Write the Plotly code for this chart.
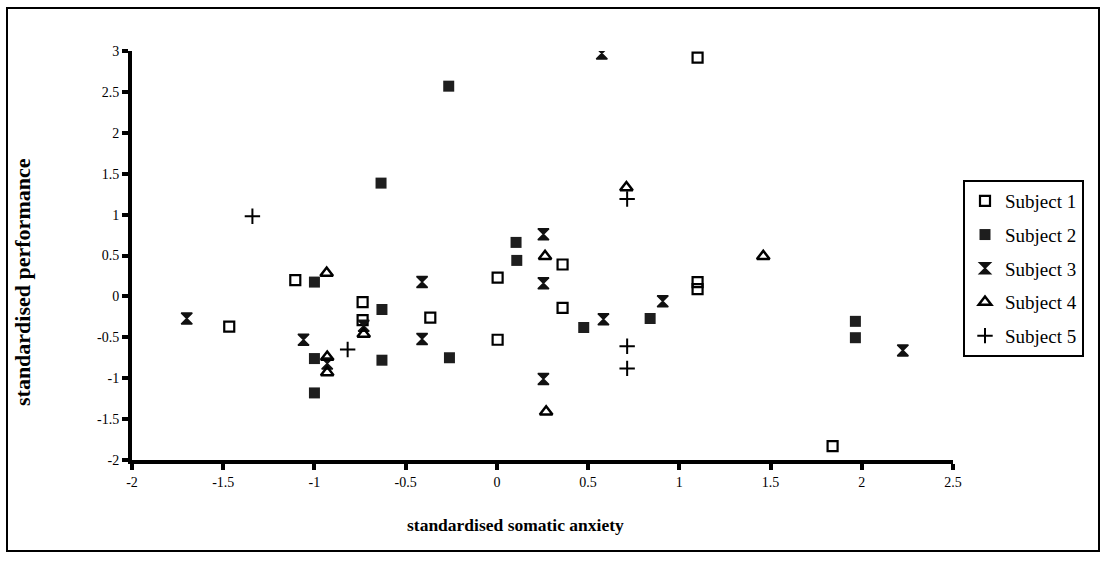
import plotly.graph_objects as go

# Standardised somatic anxiety (x) vs standardised performance (y) per subject
s1_x = [-1.467, -1.105, -0.736, -0.736, -0.365, 0.004, 0.004, 0.36, 0.36, 1.10, 1.10, 1.10, 1.84]
s1_y = [-0.37, 0.20, -0.07, -0.29, -0.26, 0.23, -0.53, 0.39, -0.14, 0.175, 0.09, 2.92, -1.83]

s2_x = [-1.0, -1.0, -1.0, -0.635, -0.63, -0.63, -0.264, -0.26, 0.105, 0.109, 0.476, 0.84, 1.965, 1.965]
s2_y = [0.175, -0.76, -1.18, 1.385, -0.16, -0.78, 2.57, -0.75, 0.66, 0.44, -0.38, -0.27, -0.305, -0.505]

s3_x = [-1.70, -1.06, -0.73, -0.41, -0.41, 0.255, 0.255, 0.255, 0.575, 0.584, 0.909, 2.225, -0.93]
s3_y = [-0.27, -0.53, -0.36, 0.175, -0.52, 0.76, 0.16, -1.01, 2.97, -0.28, -0.06, -0.66, -0.82]

s4_x = [-0.933, -0.93, -0.93, -0.73, 0.264, 0.27, 0.71, 1.46]
s4_y = [0.285, -0.74, -0.93, -0.46, 0.49, -1.41, 1.33, 0.49]

s5_x = [-1.34, -0.818, 0.714, 0.714, 0.714]
s5_y = [0.98, -0.65, 1.19, -0.61, -0.88]

x_ticks = [-2, -1.5, -1, -0.5, 0, 0.5, 1, 1.5, 2, 2.5]
y_ticks = [-2, -1.5, -1, -0.5, 0, 0.5, 1, 1.5, 2, 2.5, 3]

FONT = "Liberation Serif"

series = [
    ("Subject 1", s1_x, s1_y, dict(symbol="square-open", size=10, color="black", line=dict(width=2.2, color="black"))),
    ("Subject 2", s2_x, s2_y, dict(symbol="square", size=11, color="#1e1e1e", line=dict(width=0))),
    ("Subject 3", s3_x, s3_y, dict(symbol="hourglass", size=11, color="#111111", line=dict(width=1.5, color="#111111"))),
    ("Subject 4", s4_x, s4_y, dict(symbol="triangle-up-open", size=11, color="black", line=dict(width=2.5, color="black"))),
    ("Subject 5", s5_x, s5_y, dict(symbol="cross-thin-open", size=11, color="black", line=dict(width=2, color="black"))),
]

fig = go.Figure()
for i, (name, xs, ys, marker) in enumerate(series):
    fig.add_trace(go.Scatter(
        x=xs, y=ys, mode="markers", name=name, marker=marker,
        legendgroup=f"g{i}", showlegend=True,
    ))

W, H = 1105, 563
L, R, T, B = 132, 152, 51, 103
pw = W - L - R
ph = H - T - B

def px_x(p):
    return (p - L) / pw

def px_y(p):
    return (H - B - p) / ph

axis_common = dict(
    showgrid=False, zeroline=False, showline=True, linecolor="black", linewidth=4,
    ticks="outside", ticklen=6, tickwidth=4, tickcolor="black",
    tickfont=dict(family=FONT, size=14),
)

fig.update_layout(
    width=W, height=H,
    margin=dict(l=L, r=R, t=T, b=B),
    paper_bgcolor="white",
    plot_bgcolor="white",
    font=dict(family=FONT, color="black", size=14),
    xaxis=dict(
        range=[-2, 2.5], tickvals=x_ticks, ticktext=[f"{v:g}" for v in x_ticks],
        **axis_common,
    ),
    yaxis=dict(
        range=[-2, 3], tickvals=y_ticks, ticktext=[f"{v:g}" for v in y_ticks],
        **axis_common,
    ),
    legend=dict(
        x=px_x(963), y=px_y(180), xanchor="left", yanchor="top",
        bordercolor="black", borderwidth=2, bgcolor="white",
        font=dict(family=FONT, size=19),
        tracegroupgap=6, traceorder="grouped",
        itemwidth=30,
    ),
    annotations=[
        dict(text="<b>standardised somatic anxiety</b>", xref="paper", yref="paper",
             x=px_x(515), y=px_y(525), xanchor="center", yanchor="middle",
             showarrow=False, font=dict(family=FONT, size=17.5)),
        dict(text="<b>standardised performance</b>", xref="paper", yref="paper",
             x=px_x(22), y=px_y(282), xanchor="center", yanchor="middle",
             showarrow=False, textangle=-90, font=dict(family=FONT, size=22)),
    ],
    shapes=[dict(
        type="rect", xref="paper", yref="paper",
        x0=px_x(7), x1=px_x(1099), y0=px_y(551), y1=px_y(8),
        line=dict(color="black", width=2), fillcolor="rgba(0,0,0,0)", layer="below",
    )],
)

fig.write_html("out.html")
